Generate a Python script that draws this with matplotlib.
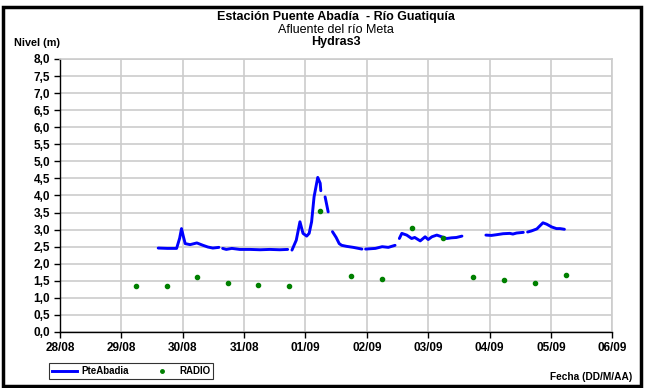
"""River level chart for Puente Abadia station (Hydras3 sensor vs radio readings)."""

import matplotlib

matplotlib.use("Agg")
import matplotlib.pyplot as plt
import numpy as np
from matplotlib.lines import Line2D
from matplotlib.patches import Rectangle

plt.rcParams["font.family"] = ["Liberation Sans", "DejaVu Sans"]

# days counted from 28/08 00:00; NaN breaks the line where the sensor has gaps
pte_days = [
    1.60, 1.75, 1.90, 1.95, 1.98, 2.01, 2.04, 2.12, 2.23, 2.33, 2.41, 2.49, 2.59, np.nan,
    2.65, 2.71, 2.80, 2.93, 3.10, 3.26, 3.42, 3.58, 3.71, np.nan,
    3.78, 3.85, 3.91, 3.96, 4.02, 4.06, 4.10, 4.14, 4.20, 4.24, 4.25, np.nan,
    4.32, 4.37, np.nan,
    4.44, 4.50, 4.55, 4.59, 4.67, 4.78, 4.92, np.nan,
    4.98, 5.14, 5.25, 5.35, 5.46, np.nan,
    5.53, 5.57, 5.65, 5.73, 5.78, 5.87, 5.95, 6.00, 6.06, 6.14, 6.22, 6.30, 6.38, 6.46, 6.55, np.nan,
    6.94, 7.03, 7.11, 7.22, 7.33, 7.38, 7.44, 7.55, np.nan,
    7.62, 7.68, 7.77, 7.87, 7.93, 8.01, 8.09, 8.15, 8.22,
]
pte_level = [
    2.46, 2.45, 2.45, 2.75, 3.03, 2.80, 2.59, 2.56, 2.61, 2.54, 2.49, 2.46, 2.48, np.nan,
    2.45, 2.42, 2.45, 2.42, 2.42, 2.41, 2.42, 2.41, 2.42, np.nan,
    2.40, 2.69, 3.23, 2.89, 2.81, 2.89, 3.23, 3.96, 4.53, 4.36, 4.14, np.nan,
    3.96, 3.52, np.nan,
    2.94, 2.77, 2.59, 2.54, 2.51, 2.48, 2.43, np.nan,
    2.43, 2.45, 2.50, 2.48, 2.54, np.nan,
    2.74, 2.89, 2.84, 2.74, 2.77, 2.67, 2.79, 2.71, 2.79, 2.84, 2.79, 2.74, 2.76, 2.77, 2.81, np.nan,
    2.84, 2.83, 2.85, 2.88, 2.89, 2.87, 2.90, 2.92, np.nan,
    2.93, 2.96, 3.02, 3.20, 3.16, 3.08, 3.03, 3.03, 3.01,
]

radio_days = [1.24, 1.74, 2.24, 2.73, 3.23, 3.73, 4.24, 4.74, 5.24, 5.74, 6.24, 6.73, 7.24, 7.74, 8.24]
radio_level = [1.36, 1.34, 1.60, 1.45, 1.37, 1.34, 3.55, 1.64, 1.55, 3.05, 2.76, 1.60, 1.51, 1.45, 1.66]

date_labels = ["28/08", "29/08", "30/08", "31/08", "01/09", "02/09", "03/09", "04/09", "05/09", "06/09"]

W, H = 645, 388
fig = plt.figure(figsize=(W / 100, H / 100), dpi=100)
ax = fig.add_axes([60 / W, 1 - 332 / H, (612.3 - 60) / W, (332 - 59) / H])

ax.plot(pte_days, pte_level, color="#0000ff", linewidth=2.1, solid_capstyle="round")
ax.plot(radio_days, radio_level, linestyle="none", marker="o", markersize=3, color="#008000")

ax.set_xlim(0, len(date_labels) - 1)
ax.set_ylim(0, 8)
ax.set_xticks(range(len(date_labels)))
ax.set_xticklabels(date_labels)
ax.set_yticks(np.arange(0, 8.01, 0.5))
ax.yaxis.set_major_formatter(plt.FuncFormatter(lambda v, _: f"{v:.1f}".replace(".", ",")))
ax.grid(True, color="#cccccc", linewidth=1.2)
ax.set_axisbelow(True)
for side in ("top", "right"):
    ax.spines[side].set_color("#cccccc")
    ax.spines[side].set_linewidth(1.2)
for side in ("left", "bottom"):
    ax.spines[side].set_color("black")
    ax.spines[side].set_linewidth(1.0)
ax.tick_params(direction="out", length=4, width=1, colors="black", labelsize=8.5, pad=3)
for lbl in ax.get_xticklabels() + ax.get_yticklabels():
    lbl.set_fontweight("bold")

cx = (60 + 612.3) / 2 / W
fig.text(cx, 1 - 17 / H, "Estación Puente Abadía  - Río Guatiquía", ha="center", va="center",
         fontsize=9, fontweight="bold")
fig.text(cx, 1 - 30 / H, "Afluente del río Meta", ha="center", va="center", fontsize=9)
fig.text(cx, 1 - 42 / H, "Hydras3", ha="center", va="center", fontsize=9, fontweight="bold")
fig.text(14 / W, 1 - 43 / H, "Nivel (m)", ha="left", va="center", fontsize=7.8, fontweight="bold")
fig.text(632 / W, 1 - 377 / H, "Fecha (DD/M/AA)", ha="right", va="center", fontsize=7.3,
         fontweight="bold")

handles = [
    Line2D([], [], color="#0000ff", linewidth=2.1),
    Line2D([], [], linestyle="none", marker="o", markersize=2.5, color="#008000"),
]
leg = fig.legend(handles, ["PteAbadia", "RADIO"], loc="center left",
                 bbox_to_anchor=(44 / W, 1 - 371 / H), ncol=2, frameon=True, fancybox=False,
                 edgecolor="black", fontsize=7, handlelength=2.6, columnspacing=2.2,
                 borderpad=0.3, handletextpad=0.4)
leg.get_frame().set_linewidth(0.8)
for t in leg.get_texts():
    t.set_fontweight("bold")

fig.patches.append(Rectangle((3 / W, 2 / H), (641 - 3) / W, (381 - 2) / H, transform=fig.transFigure,
                             fill=False, edgecolor="black", linewidth=2.5))

fig.savefig("out.png", dpi=100)
